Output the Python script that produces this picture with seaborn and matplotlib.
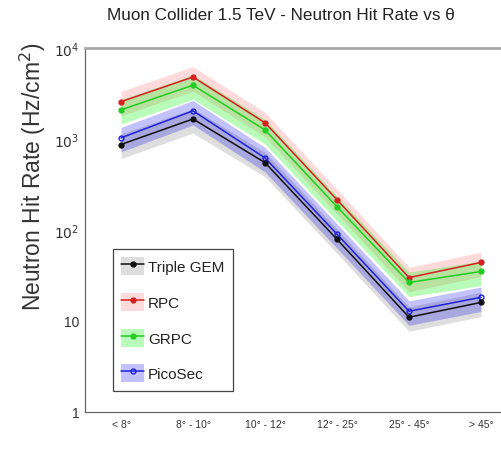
import matplotlib
matplotlib.use("Agg")
import matplotlib.pyplot as plt
from matplotlib.patches import Patch
from matplotlib.lines import Line2D
from matplotlib.legend_handler import HandlerTuple
from matplotlib.ticker import LogLocator, FixedLocator, NullFormatter, FuncFormatter
import numpy as np
import pandas as pd
import seaborn as sns

# Angular bins
theta_bins = ["< 8°", "8° - 10°", "10° - 12°", "12° - 25°", "25° - 45°", "> 45°"]

# Neutron hit rates (Hz/cm^2) per detector technology
triple_gem = [870, 1660, 550, 79, 11.0, 16.0]
rpc = [2570, 4800, 1510, 215, 30.0, 44.0]
grpc = [2090, 3900, 1260, 180, 26.5, 35.0]
picosec = [1030, 2040, 620, 90, 12.8, 18.2]

# Relative uncertainty used for the shaded bands
rel_unc = 0.3

series_names = ["Triple GEM", "RPC", "GRPC", "PicoSec"]
series_values = [triple_gem, rpc, grpc, picosec]

sns.set_theme(style="white")
plt.rcParams["font.family"] = ["Liberation Sans", "DejaVu Sans"]

line_colors = {"Triple GEM": "#111111", "RPC": "#d42020", "GRPC": "#22cc22", "PicoSec": "#2020d8"}
band_colors = {"Triple GEM": (0.0, 0.0, 0.0, 0.13), "RPC": (1.0, 0.2, 0.2, 0.18),
               "GRPC": (0.1, 0.95, 0.1, 0.30), "PicoSec": (0.15, 0.15, 1.0, 0.28)}
marker_face = {"Triple GEM": "#111111", "RPC": "#d42020", "GRPC": "#22cc22", "PicoSec": "none"}

rows = []
for name, vals in zip(series_names, series_values):
    for i, v in enumerate(vals):
        rows.append({"bin": i + 0.5, "rate": v, "detector": name})
df = pd.DataFrame(rows)

fig = plt.figure(figsize=(5.01, 4.64), dpi=100)
W, H = 501, 464
ax_left, ax_right, ax_top, ax_bottom = 85, 517, 49, 413
ax = fig.add_axes([ax_left / W, 1 - ax_bottom / H, (ax_right - ax_left) / W, (ax_bottom - ax_top) / H])

x = np.arange(len(theta_bins)) + 0.5
# shaded uncertainty bands
for name in ["RPC", "GRPC", "PicoSec", "Triple GEM"]:
    vals = np.array(series_values[series_names.index(name)], dtype=float)
    ax.fill_between(x, vals * (1 - rel_unc), vals * (1 + rel_unc), color=band_colors[name], lw=0)

for name in ["RPC", "GRPC", "PicoSec", "Triple GEM"]:
    sub = df[df["detector"] == name]
    sns.lineplot(data=sub, x="bin", y="rate", ax=ax, color=line_colors[name], lw=1.1,
                 marker="o", markersize=3.5, markerfacecolor=marker_face[name],
                 markeredgecolor=line_colors[name], markeredgewidth=1.0, legend=False)

ax.set_yscale("log")
ax.set_ylim(1, 1e4)
ax.set_xlim(0, 6)

ax.xaxis.set_major_locator(FixedLocator(x))
ax.set_xticks(x)
ax.set_xticklabels(theta_bins, fontsize=7.5, color="#333333")
ax.tick_params(axis="x", direction="in", length=10, width=0.8, color="#555555", pad=5)

ax.yaxis.set_major_locator(LogLocator(base=10, numticks=10))
ax.yaxis.set_minor_locator(LogLocator(base=10, subs=np.arange(2, 10), numticks=10))
ax.yaxis.set_minor_formatter(NullFormatter())

def fmt(v, pos):
    if v == 1:
        return "1"
    if v == 10:
        return "10"
    return r"$10^{%d}$" % int(round(np.log10(v)))

ax.yaxis.set_major_formatter(FuncFormatter(fmt))
ax.tick_params(axis="y", which="major", direction="in", length=9, width=0.8, color="#555555",
               labelsize=10, labelcolor="#333333", pad=4)
ax.tick_params(axis="y", which="minor", direction="in", length=5, width=0.6, color="#777777")

ax.set_xlabel("")
ax.set_ylabel("")
fig.text(33 / W, 1 - 177 / H, "Neutron Hit Rate (Hz/cm$^2$)", rotation=90,
         ha="center", va="center", fontsize=16.5, color="#333333")

for side in ["left", "bottom"]:
    ax.spines[side].set_color("#666666")
    ax.spines[side].set_linewidth(0.9)
ax.spines["top"].set_color("#aaaaaa")
ax.spines["top"].set_linewidth(2.0)
ax.spines["right"].set_color("#aaaaaa")

fig.text(281 / W, 1 - 15 / H, "Muon Collider 1.5 TeV - Neutron Hit Rate vs θ",
         ha="center", va="center", fontsize=12.3, color="#222222",
         family=["Liberation Sans", "DejaVu Sans"])

handles = []
for name in series_names:
    patch = Patch(facecolor=band_colors[name], edgecolor="none")
    line = Line2D([], [], color=line_colors[name], lw=1.1, marker="o", markersize=3.5,
                  markerfacecolor=marker_face[name], markeredgecolor=line_colors[name])
    handles.append((patch, line))

leg = ax.legend(handles, series_names, handler_map={tuple: HandlerTuple(ndivide=1, pad=0)},
                loc="lower left", bbox_to_anchor=(0.065, 0.058), fontsize=11,
                frameon=True, fancybox=False, edgecolor="#444444", framealpha=1,
                handlelength=1.45, handleheight=1.45, labelspacing=1.15, borderpad=0.55,
                handletextpad=0.3, borderaxespad=0)
leg.get_frame().set_linewidth(0.9)
for t in leg.get_texts():
    t.set_color("#222222")

fig.savefig("out.png", dpi=100)
